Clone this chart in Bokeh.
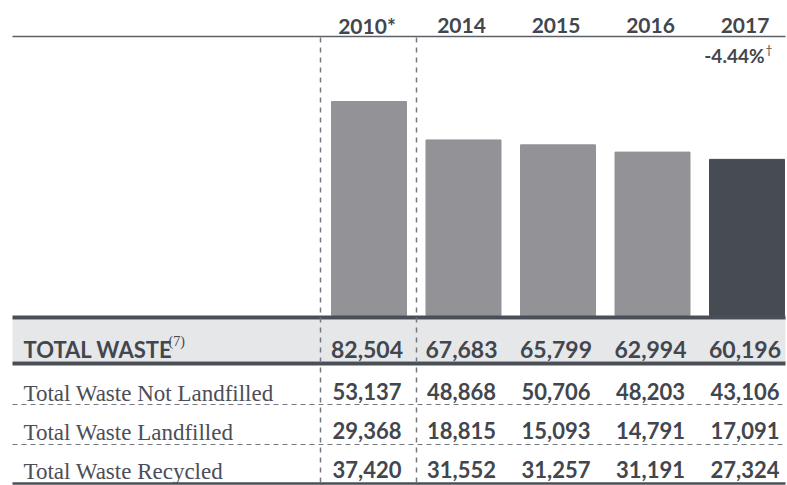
import numpy as np
from bokeh.plotting import figure
from bokeh.models import Range1d, ColumnDataSource
from bokeh.core.properties import value
from bokeh.embed import file_html
from bokeh.resources import INLINE

# ---- data ----
years = ["2010*", "2014", "2015", "2016", "2017"]
total_waste = [82504, 67683, 65799, 62994, 60196]
not_landfilled = [53137, 48868, 50706, 48203, 43106]
landfilled = [29368, 18815, 15093, 14791, 17091]
recycled = [37420, 31552, 31257, 31191, 27324]
header_label = "TOTAL WASTE"
header_note = "(7)"
row_labels = ["Total Waste Not Landfilled", "Total Waste Landfilled", "Total Waste Recycled"]
dagger = "\u2020"

# ---- layout helpers (reference pixel -> data units) ----
W, H = 787, 485
COL0_PX = 368.5
COLW = 94.5
BASE_PX = 315.0
UNITS_PER_PX = 82504 / 214.0


def X(px):
    return (px - COL0_PX) / COLW


def Y(py):
    return (BASE_PX - py) * UNITS_PER_PX


LIGHT = "#939296"
DARK_BAR = "#474b54"
LINE = "#4a4e57"
TEXT = "#42464e"
SERIF_TEXT = "#4b4e56"
BAND = "#e6e7e8"
DASH = "#75787e"

xs = np.arange(len(years))
bar_colors = [LIGHT] * (len(years) - 1) + [DARK_BAR]

p = figure(width=W, height=H,
           x_range=Range1d(X(0), X(W)), y_range=Range1d(Y(H), Y(0)),
           x_axis_type=None, y_axis_type=None,
           output_backend="svg", toolbar_location=None,
           min_border=0, min_border_left=0, min_border_right=0,
           min_border_top=0, min_border_bottom=0)
p.grid.visible = False
p.outline_line_color = None
p.background_fill_color = "white"
p.border_fill_color = "white"

xl, xr = X(12), X(785)

# band behind TOTAL WASTE row
p.quad(left=[xl], right=[xr], bottom=[Y(361)], top=[Y(319)],
       fill_color=BAND, line_color=None)

# bars
src = ColumnDataSource(dict(x=xs, top=total_waste, color=bar_colors))
p.vbar(x="x", top="top", bottom=0, width=75 / COLW, color="color", source=src)

# horizontal rules
p.segment(x0=[xl], x1=[xr], y0=[Y(36)], y1=[Y(36)], line_color="#5b5f66", line_width=1.5)
p.segment(x0=[xl, xl], x1=[xr, xr], y0=[Y(317), Y(363)], y1=[Y(317), Y(363)],
          line_color=LINE, line_width=4)
p.segment(x0=[xl, xl], x1=[xr, xr], y0=[Y(404), Y(444)], y1=[Y(404), Y(444)],
          line_color=DASH, line_width=1, line_dash="5 4")
p.segment(x0=[xl], x1=[xr], y0=[Y(483)], y1=[Y(483)], line_color=LINE, line_width=2.5)

# vertical dashed separators
p.segment(x0=[X(320), X(416)], x1=[X(320), X(416)], y0=[Y(37), Y(37)], y1=[Y(483), Y(483)],
          line_color=DASH, line_width=1.5, line_dash="5 5")

num_font = value("Lato")
serif_font = value("Liberation Serif")
tx = xs - 2.0 / COLW

# year headers
p.text(x=tx, y=[Y(25)] * len(years), text=years, text_font=num_font, text_font_style="bold",
       text_font_size="21px", text_color=TEXT, text_align="center", text_baseline="alphabetic")

# percentage change
pct = (total_waste[-1] - total_waste[-2]) / total_waste[-2] * 100
p.text(x=[X(764)], y=[Y(55)], text=[f"{pct:.2f}%"], text_font=num_font, text_font_style="bold",
       text_font_size="19px", text_color=TEXT, text_align="right", text_baseline="alphabetic")
p.text(x=[X(765)], y=[Y(49)], text=[dagger], text_font=num_font,
       text_font_size="12px", text_color=TEXT, text_align="left", text_baseline="alphabetic")

# TOTAL WASTE row
p.text(x=[X(23)], y=[Y(349)], text=[header_label], text_font=num_font, text_font_style="bold",
       text_font_size="22px", text_color=TEXT, text_align="left", text_baseline="alphabetic")
p.text(x=[X(168)], y=[Y(341)], text=[header_note], text_font=serif_font,
       text_font_size="14px", text_color=TEXT, text_align="left", text_baseline="alphabetic")
p.text(x=tx, y=[Y(349)] * len(years), text=[f"{v:,}" for v in total_waste],
       text_font=num_font, text_font_style="bold", text_font_size="23px", text_color=TEXT,
       text_align="center", text_baseline="alphabetic")

# sub rows
rows = [not_landfilled, landfilled, recycled]
label_base = [393, 432, 471]
num_base = [391, 430, 469]
for lab, vals, lb, nb in zip(row_labels, rows, label_base, num_base):
    p.text(x=[X(23)], y=[Y(lb)], text=[lab], text_font=serif_font,
           text_font_size="23px", text_color=SERIF_TEXT, text_align="left",
           text_baseline="alphabetic")
    p.text(x=tx, y=[Y(nb)] * len(vals), text=[f"{v:,}" for v in vals],
           text_font=num_font, text_font_style="bold", text_font_size="22px", text_color=TEXT,
           text_align="center", text_baseline="alphabetic")

open("out.html", "w").write(file_html(p, INLINE))
